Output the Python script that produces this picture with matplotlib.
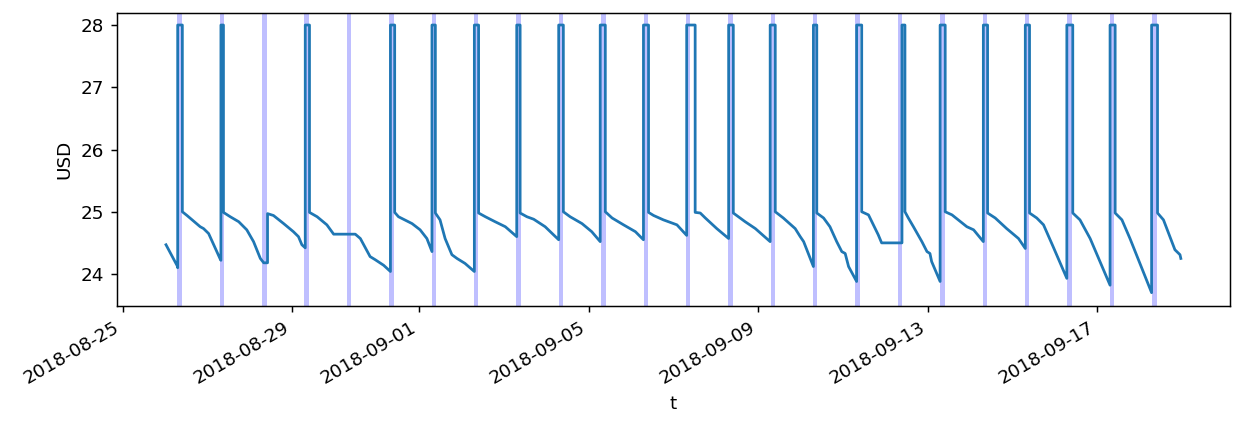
import matplotlib
matplotlib.use("Agg")
import matplotlib.pyplot as plt
import pandas as pd

# Elapsed days since 2018-08-25 00:00 and price (USD)
base_date = "2018-08-25"
elapsed_days = [
    1.024, 1.298, 1.30, 1.30, 1.41, 1.41,
    1.52, 1.83, 1.91, 2.03, 2.19, 2.31, 2.32, 2.32, 2.38, 2.38,
    2.54, 2.74, 2.93, 3.09, 3.25, 3.33, 3.42, 3.42,
    3.56, 3.80, 4.03, 4.15, 4.23, 4.31, 4.31, 4.41, 4.41,
    4.59, 4.82, 4.98, 5.49, 5.61, 5.84, 5.96, 6.16, 6.32, 6.32, 6.42, 6.42,
    6.51, 6.83, 7.02, 7.18, 7.30, 7.30, 7.38, 7.38,
    7.49, 7.61, 7.77, 7.89, 8.08, 8.28, 8.30, 8.30, 8.40, 8.40,
    8.56, 8.79, 9.03, 9.30, 9.30, 9.38, 9.38,
    9.54, 9.70, 9.97, 10.29, 10.29, 10.40, 10.40,
    10.56, 10.84, 11.07, 11.27, 11.27, 11.39, 11.39,
    11.55, 11.82, 12.10, 12.29, 12.29, 12.41, 12.41,
    12.53, 12.76, 13.08, 13.31, 13.31, 13.51, 13.51,
    13.63, 13.75, 14.02, 14.30, 14.30, 14.41, 14.41,
    14.69, 14.93, 15.28, 15.28, 15.40, 15.40,
    15.59, 15.87, 15.99, 16.07, 16.30, 16.30, 16.38, 16.38,
    16.54, 16.69, 16.85, 16.97, 17.05, 17.13, 17.32, 17.32, 17.44, 17.44,
    17.60, 17.83, 17.91, 18.39, 18.39, 18.46, 18.46,
    18.54, 18.66, 18.86, 18.98, 19.05, 19.09, 19.29, 19.29, 19.41, 19.41,
    19.57, 19.92, 20.08, 20.31, 20.31, 20.41, 20.41,
    20.59, 20.86, 21.14, 21.30, 21.30, 21.40, 21.40,
    21.57, 21.73, 21.95, 22.28, 22.28, 22.42, 22.42,
    22.59, 22.83, 23.30, 23.30, 23.42, 23.42,
    23.58, 23.77, 24.28, 24.28, 24.42, 24.42,
    24.56, 24.83, 24.95, 24.97,
]
usd = [
    24.47, 24.12, 24.10, 28.00, 28.00, 25.00,
    24.94, 24.76, 24.73, 24.65, 24.41, 24.23, 24.22, 28.00, 28.00, 24.99,
    24.92, 24.84, 24.71, 24.52, 24.25, 24.18, 24.18, 24.97,
    24.94, 24.81, 24.68, 24.60, 24.47, 24.42, 28.00, 28.00, 24.99,
    24.92, 24.79, 24.64, 24.64, 24.57, 24.28, 24.23, 24.14, 24.04, 28.00, 28.00, 24.99,
    24.92, 24.81, 24.71, 24.57, 24.36, 28.00, 28.00, 24.98,
    24.87, 24.57, 24.31, 24.25, 24.17, 24.05, 24.04, 28.00, 28.00, 24.98,
    24.92, 24.84, 24.76, 24.60, 28.00, 28.00, 24.98,
    24.92, 24.88, 24.76, 24.55, 28.00, 28.00, 25.00,
    24.92, 24.81, 24.68, 24.52, 28.00, 28.00, 25.00,
    24.90, 24.79, 24.68, 24.55, 28.00, 28.00, 24.99,
    24.94, 24.87, 24.79, 24.62, 28.00, 28.00, 24.99,
    24.98, 24.90, 24.73, 24.57, 28.00, 28.00, 24.98,
    24.84, 24.73, 24.52, 28.00, 28.00, 25.00,
    24.90, 24.73, 24.60, 24.52, 24.12, 28.00, 28.00, 24.98,
    24.90, 24.76, 24.52, 24.36, 24.33, 24.12, 23.88, 28.00, 28.00, 25.00,
    24.95, 24.63, 24.50, 24.50, 28.00, 28.00, 25.00,
    24.90, 24.76, 24.52, 24.36, 24.33, 24.20, 23.88, 28.00, 28.00, 25.00,
    24.95, 24.76, 24.71, 24.52, 28.00, 28.00, 24.98,
    24.90, 24.73, 24.57, 24.41, 28.00, 28.00, 24.98,
    24.90, 24.79, 24.45, 23.93, 28.00, 28.00, 24.98,
    24.87, 24.57, 23.82, 28.00, 28.00, 24.98,
    24.87, 24.57, 23.70, 28.00, 28.00, 24.98,
    24.87, 24.39, 24.31, 24.25,
]

# Highlighted daily windows (hours of day)
highlight_days = pd.date_range("2018-08-26", "2018-09-18", freq="D")
highlight_start_hour = 7.0
highlight_end_hour = 9.5

t = pd.Timestamp(base_date) + pd.to_timedelta(elapsed_days, unit="D")

DPI = 132
fig = plt.figure(figsize=(1233 / DPI, 426 / DPI), dpi=DPI)
ax = fig.add_subplot(111)

for d in highlight_days:
    ax.axvspan(d + pd.Timedelta(hours=highlight_start_hour),
               d + pd.Timedelta(hours=highlight_end_hour),
               color="blue", alpha=0.25, lw=0)

ax.plot(t, usd, color="#1f77b4", lw=1.5)

ax.set_xlim(pd.Timestamp(base_date) - pd.Timedelta(days=0.132),
            pd.Timestamp(base_date) + pd.Timedelta(days=26.13))
ax.set_ylim(23.486, 28.198)
ax.set_xlabel("t")
ax.set_ylabel("USD")
fig.autofmt_xdate()
fig.subplots_adjust(left=117/1233, right=1230/1233, top=1-12.7/426, bottom=1-306/426)

fig.savefig("out.png", dpi=DPI)
